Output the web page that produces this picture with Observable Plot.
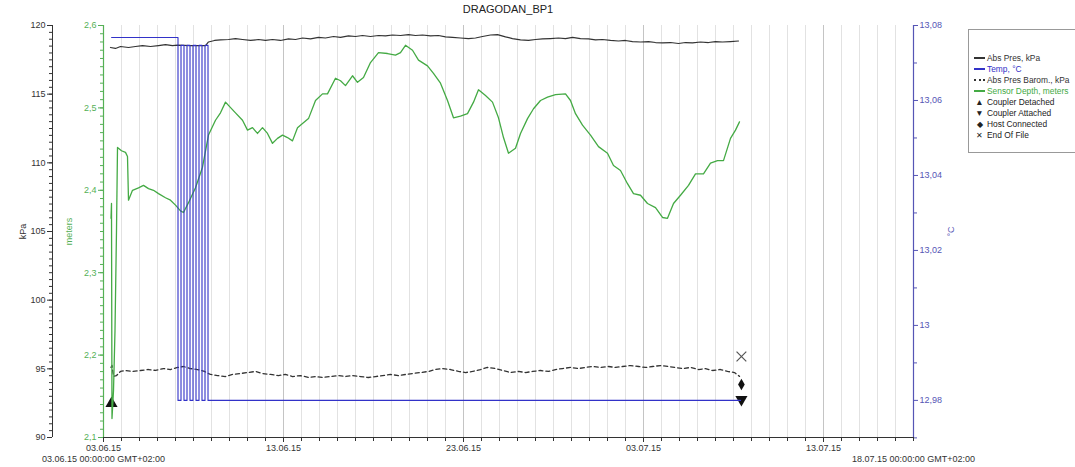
<!DOCTYPE html>
<html>
<head>
<meta charset="utf-8">
<script src="https://cdn.jsdelivr.net/npm/d3@7"></script>
<script src="https://cdn.jsdelivr.net/npm/@observablehq/plot@0.6"></script>
<style>
  html, body { margin: 0; padding: 0; background: #fff; overflow: hidden; }
  #wrap { position: relative; width: 1075px; height: 467px; overflow: hidden; font-family: "Liberation Sans", Arial, sans-serif; }
  #title { position: absolute; left: 103px; width: 810px; top: 3px; text-align: center; font-size: 11px; color: #222; }
  #legend { position: absolute; left: 968px; top: 29px; width: 300px; height: 122px; border: 1px solid #999; background: #fff; font-size: 8.4px; color: #222; }
  #legend .row { position: absolute; left: 5px; height: 11px; line-height: 11px; white-space: nowrap; }
  #legend .sw { display: inline-block; width: 11px; text-align: center; margin-right: 2px; vertical-align: top; }
  #legend .ln { display: inline-block; width: 11px; height: 0; border-top: 2px solid; vertical-align: middle; margin-right: 2px; position: relative; top: -1px; }
</style>
</head>
<body>
<div id="wrap">
  <div id="title"></div>
  <div id="legend"></div>
</div>
<script>
// ---------- data ----------
const chartTitle = "DRAGODAN_BP1";
const startLabel = "03.06.15 00:00:00 GMT+02:00";
const endLabel = "18.07.15 00:00:00 GMT+02:00";
const startDate = Date.UTC(2015, 5, 3);
const endDate = Date.UTC(2015, 6, 18);

// days since 03.06.15 00:00
const depthDays = [0.417,0.444,0.472,0.556,0.639,0.722,0.778,1.0,1.222,1.333,1.389,1.611,1.944,2.222,2.5,2.778,3.056,3.444,3.722,4.0,4.278,4.444,4.722,5.111,5.5,5.833,6.222,6.5,6.778,6.944,7.333,7.722,8.0,8.278,8.556,8.833,9.111,9.389,9.667,9.944,10.222,10.5,10.778,11.056,11.389,11.778,12.167,12.444,12.889,13.167,13.444,13.833,14.111,14.444,14.833,15.278,15.778,16.222,16.5,16.778,17.167,17.5,18.0,18.333,18.722,19.111,19.444,19.833,20.222,20.556,20.833,21.222,21.611,21.944,22.222,22.5,22.889,23.167,23.556,23.889,24.278,24.667,25.111,25.667,25.944,26.222,26.611,27.056,27.5,28.0,28.333,28.722,29.111,29.444,29.833,30.222,30.667,31.056,31.333,31.667,32.056,32.5,32.889,33.333,33.722,34.111,34.444,34.833,35.111,35.333];
const depthMeters = [2.366,2.384,2.123,2.157,2.230,2.351,2.452,2.448,2.446,2.441,2.388,2.400,2.403,2.406,2.402,2.400,2.396,2.391,2.388,2.382,2.375,2.373,2.385,2.403,2.428,2.467,2.485,2.494,2.507,2.503,2.494,2.485,2.473,2.476,2.469,2.476,2.469,2.457,2.463,2.467,2.464,2.460,2.476,2.481,2.487,2.509,2.517,2.517,2.536,2.533,2.527,2.539,2.531,2.537,2.555,2.567,2.566,2.564,2.567,2.576,2.570,2.558,2.551,2.542,2.530,2.509,2.488,2.490,2.493,2.507,2.522,2.515,2.507,2.488,2.464,2.445,2.451,2.469,2.487,2.499,2.509,2.513,2.516,2.517,2.509,2.493,2.479,2.467,2.453,2.445,2.430,2.424,2.408,2.396,2.394,2.384,2.379,2.367,2.366,2.384,2.394,2.406,2.420,2.420,2.433,2.436,2.436,2.463,2.473,2.483];

const presDays = [0.389,0.667,0.944,1.389,1.778,2.167,2.611,3.056,3.444,3.833,4.111,4.833,5.667,5.833,6.167,6.5,6.944,7.333,7.722,8.167,8.611,9.0,9.389,9.833,10.278,10.667,11.056,11.5,11.944,12.333,12.778,13.167,13.611,14.0,14.389,14.833,15.278,15.667,16.056,16.5,16.944,17.333,17.722,18.167,18.611,19.0,19.389,19.833,20.278,20.667,21.056,21.5,21.889,22.333,22.722,23.167,23.611,24.0,24.389,24.833,25.278,25.667,26.056,26.5,26.944,27.333,27.722,28.167,28.611,29.0,29.389,29.833,30.278,30.667,31.056,31.5,31.944,32.333,32.722,33.167,33.611,34.0,34.389,34.833,35.278];
const presKpa = [118.40,118.33,118.47,118.40,118.47,118.54,118.47,118.54,118.61,118.54,118.57,118.54,118.54,118.80,118.91,118.95,118.98,119.05,118.98,118.91,118.98,118.91,118.98,118.91,119.02,118.98,119.09,119.02,119.13,119.09,119.20,119.13,119.24,119.20,119.27,119.20,119.27,119.24,119.31,119.27,119.34,119.27,119.31,119.24,119.27,119.17,119.13,119.09,119.05,119.09,119.20,119.31,119.34,119.17,119.05,118.95,118.91,118.98,119.02,119.05,119.09,119.05,119.13,119.05,119.02,118.95,118.98,118.91,118.87,118.91,118.83,118.80,118.83,118.76,118.73,118.76,118.69,118.76,118.73,118.80,118.76,118.83,118.80,118.83,118.87];

const baroDays = [0.417,0.472,0.556,0.722,0.944,1.222,1.611,2.056,2.5,2.889,3.333,3.722,4.111,4.444,4.833,5.222,5.611,5.944,6.333,6.778,7.167,7.611,8.0,8.444,8.833,9.278,9.722,10.111,10.5,10.944,11.389,11.778,12.167,12.611,13.056,13.444,13.833,14.278,14.722,15.111,15.5,15.944,16.389,16.778,17.167,17.611,18.056,18.444,18.833,19.278,19.722,20.111,20.5,20.944,21.333,21.778,22.167,22.611,23.056,23.444,23.833,24.278,24.722,25.111,25.5,25.944,26.389,26.778,27.167,27.611,28.056,28.444,28.833,29.278,29.722,30.111,30.5,30.944,31.389,31.778,32.167,32.611,33.056,33.444,33.833,34.278,34.667,35.056,35.333];
const baroKpa = [95.10,95.25,94.45,94.51,94.81,94.88,94.81,94.88,94.95,94.88,95.02,94.95,95.10,95.17,95.02,94.95,94.81,94.59,94.51,94.44,94.59,94.66,94.73,94.81,94.66,94.59,94.51,94.59,94.44,94.51,94.37,94.44,94.37,94.44,94.51,94.44,94.51,94.44,94.37,94.44,94.51,94.59,94.51,94.59,94.66,94.73,94.81,94.95,95.02,94.95,94.81,94.73,94.81,94.95,95.10,95.02,94.88,94.73,94.81,94.73,94.81,94.88,94.81,94.95,95.02,95.10,95.02,95.10,95.17,95.10,95.17,95.10,95.17,95.24,95.17,95.10,95.17,95.24,95.17,95.10,95.02,95.10,94.95,95.02,94.88,94.95,94.81,94.73,94.45];

const tempDays = [0.45,4.139,4.306,4.472,4.639,4.806,4.972,5.139,5.306,5.472,5.639,5.806,35.389];
const tempC = [13.0768,12.98,13.0747,12.98,13.0747,12.98,13.0747,12.98,13.0747,12.98,13.0747,12.98,12.98];

const markerNames = ["Coupler Detached","Coupler Attached","Host Connected","End Of File"];
const markerDays = [0.444,35.44,35.44,35.44];
const markerKpa = [92.48,92.77,93.86,95.90];

const kpaMajor = [90,95,100,105,110,115,120];
const meterMajor = [2.1,2.2,2.3,2.4,2.5,2.6];
const tempMajor = [12.98,13,13.02,13.04,13.06,13.08];
const tempMinor = [12.97,12.99,13.01,13.03,13.05,13.07];

const legendNames = ["Abs Pres, kPa","Temp, °C","Abs Pres Barom., kPa","Sensor Depth, meters"];

// ---------- helpers ----------
const day = 864e5;
const toDate = d => new Date(startDate + d * day);
const comma = v => String(+v.toFixed(2)).replace(".", ",");
const zip = (ds, vs) => ds.map((d, i) => ({t: toDate(d), v: vs[i]}));
const depth = zip(depthDays, depthMeters);
const pres = zip(presDays, presKpa);
const baro = zip(baroDays, baroKpa);
const temp = zip(tempDays, tempC);
const markers = markerNames.map((n, i) => ({name: n, t: toDate(markerDays[i]), v: markerKpa[i]}));

const C = {black: "#333", blue: "#3232c8", green: "#44aa44", gAxis: "#55b055", bAxis: "#5555b5", grid: "#e2e2e2", gridMajor: "#c4c4c4", text: "#333"};
const W = 1075, H = 467, M = {top: 25, bottom: 30, left: 103, right: 162};
const xDomain = [new Date(startDate), new Date(endDate)];
const allDays = d3.utcDay.range(toDate(1), new Date(endDate));
const majorDays = d3.utcDay.range(new Date(startDate), new Date(endDate + 1), 1).filter((d, i) => i % 10 === 0);
const baseStyle = {position: "absolute", left: "0px", top: "0px", background: "transparent", fontFamily: "Liberation Sans, Arial, sans-serif", fontSize: "9px", overflow: "visible"};
const wrap = document.getElementById("wrap");

// base plot: grid, x axis, kPa series, markers
const base = Plot.plot({
  width: W, height: H, marginTop: M.top, marginBottom: M.bottom, marginLeft: M.left, marginRight: M.right,
  style: {...baseStyle, background: "#fff"},
  x: {type: "utc", domain: xDomain},
  y: {domain: [90, 120], axis: null},
  marks: [
    Plot.ruleX(allDays.filter(d => !majorDays.some(m => +m === +d)), {stroke: C.grid}),
    Plot.ruleX(majorDays.slice(1), {stroke: C.gridMajor}),
    Plot.line(baro, {x: "t", y: "v", stroke: C.black, strokeWidth: 1.3, strokeDasharray: "4,3"}),
    Plot.line(pres, {x: "t", y: "v", stroke: C.black, strokeWidth: 1.2}),
    Plot.ruleY([90], {stroke: C.black}),
    Plot.axisX([new Date(startDate), ...allDays, new Date(endDate)], {tickSize: 4, tickFormat: () => "", stroke: C.black, label: null}),
    Plot.axisX(majorDays, {tickSize: 5, tickPadding: 2, tickFormat: d3.utcFormat("%d.%m.%y"), fill: C.text, stroke: C.black, fontSize: 9, label: null}),
    Plot.text([new Date(startDate)], {x: d => d, frameAnchor: "bottom", dy: 24, text: () => startLabel, fill: C.text, fontSize: 9}),
    Plot.text([new Date(endDate)], {x: d => d, frameAnchor: "bottom", dy: 24, text: () => endLabel, fill: C.text, fontSize: 9}),
    Plot.dot(markers.filter(m => m.name === "Coupler Detached"), {x: "t", y: "v", symbol: "triangle", fill: "#111", r: 4.5}),
    Plot.dot(markers.filter(m => m.name === "Coupler Attached"), {x: "t", y: "v", symbol: "triangle", rotate: 180, fill: "#111", r: 4.5}),
    Plot.dot(markers.filter(m => m.name === "Host Connected"), {x: "t", y: "v", symbol: "diamond", fill: "#111", r: 3.5}),
    Plot.dot(markers.filter(m => m.name === "End Of File"), {x: "t", y: "v", symbol: "times", stroke: "#555", strokeWidth: 1.2, r: 4.5})
  ]
});
wrap.appendChild(base);

// kPa axis (outer left)
const kpaAxis = Plot.plot({
  width: W, height: H, marginTop: M.top, marginBottom: M.bottom, marginLeft: 52, marginRight: M.right,
  style: baseStyle,
  x: {domain: [0, 1], axis: null},
  y: {domain: [90, 120]},
  marks: [
    Plot.ruleX([0], {stroke: C.black}),
    Plot.axisY(d3.range(180, 241).map(v => v / 2), {tickSize: 3, tickFormat: () => "", stroke: C.black, label: null}),
    Plot.axisY(kpaMajor, {tickSize: 5, tickPadding: 2, stroke: C.black, fill: C.text, fontSize: 9, label: "kPa", labelAnchor: "center", labelOffset: 33, labelArrow: false})
  ]
});
wrap.appendChild(kpaAxis);

// meters (inner left, green)
const depthPlot = Plot.plot({
  width: W, height: H, marginTop: M.top, marginBottom: M.bottom, marginLeft: M.left, marginRight: M.right,
  style: baseStyle,
  x: {type: "utc", domain: xDomain, axis: null},
  y: {domain: [2.1, 2.6]},
  marks: [
    Plot.line(depth, {x: "t", y: "v", stroke: C.green, strokeWidth: 1.3}),
    Plot.ruleX([new Date(startDate)], {stroke: C.gAxis, strokeWidth: 1.2}),
    Plot.axisY(d3.range(210, 261).map(v => v / 100), {tickSize: 3, tickFormat: () => "", stroke: C.gAxis, label: null}),
    Plot.axisY(meterMajor, {tickSize: 5, tickPadding: 2, tickFormat: comma, stroke: C.gAxis, fill: C.gAxis, fontSize: 9, label: "meters", labelAnchor: "center", labelOffset: 38, labelArrow: false})
  ]
});
wrap.appendChild(depthPlot);

// temperature (right, blue)
const tempPlot = Plot.plot({
  width: W, height: H, marginTop: M.top, marginBottom: M.bottom, marginLeft: M.left, marginRight: M.right,
  style: baseStyle,
  x: {type: "utc", domain: xDomain, axis: null},
  y: {domain: [12.9701, 13.08]},
  marks: [
    Plot.line(temp, {x: "t", y: "v", stroke: C.blue, strokeWidth: 1.1, curve: "step-after"}),
    Plot.ruleX([new Date(endDate)], {stroke: C.bAxis, strokeWidth: 1.2}),
    Plot.axisY(tempMinor, {anchor: "right", tickSize: 3, tickFormat: () => "", stroke: C.bAxis, label: null}),
    Plot.axisY(tempMajor, {anchor: "right", tickSize: 4, tickPadding: 2, tickFormat: comma, stroke: C.bAxis, fill: C.bAxis, fontSize: 9, label: "°C", labelAnchor: "center", labelOffset: 40, labelArrow: false})
  ]
});
wrap.appendChild(tempPlot);

// title & legend
document.getElementById("title").textContent = chartTitle;
wrap.appendChild(document.getElementById("title"));
const legend = document.getElementById("legend");
wrap.appendChild(legend);
const lineSw = [
  `<span class="ln" style="border-color:${C.black}"></span>`,
  `<span class="ln" style="border-color:${C.blue}"></span>`,
  `<span class="ln" style="border-top:2px dotted ${C.black}"></span>`,
  `<span class="ln" style="border-color:${C.green}"></span>`
];
const lineColors = [C.black, C.blue, C.black, C.green];
const symSw = ["▲", "▼", "◆", "✕"];
const rows = [
  ...legendNames.map((n, i) => ({html: lineSw[i], name: n, color: lineColors[i]})),
  ...markerNames.map((n, i) => ({html: `<span class="sw">${symSw[i]}</span>`, name: n, color: "#222"}))
];
rows.forEach((r, i) => {
  const div = document.createElement("div");
  div.className = "row";
  div.style.top = (23 + i * 11) + "px";
  div.style.color = r.color;
  div.innerHTML = r.html + r.name;
  legend.appendChild(div);
});
</script>
</body>
</html>
